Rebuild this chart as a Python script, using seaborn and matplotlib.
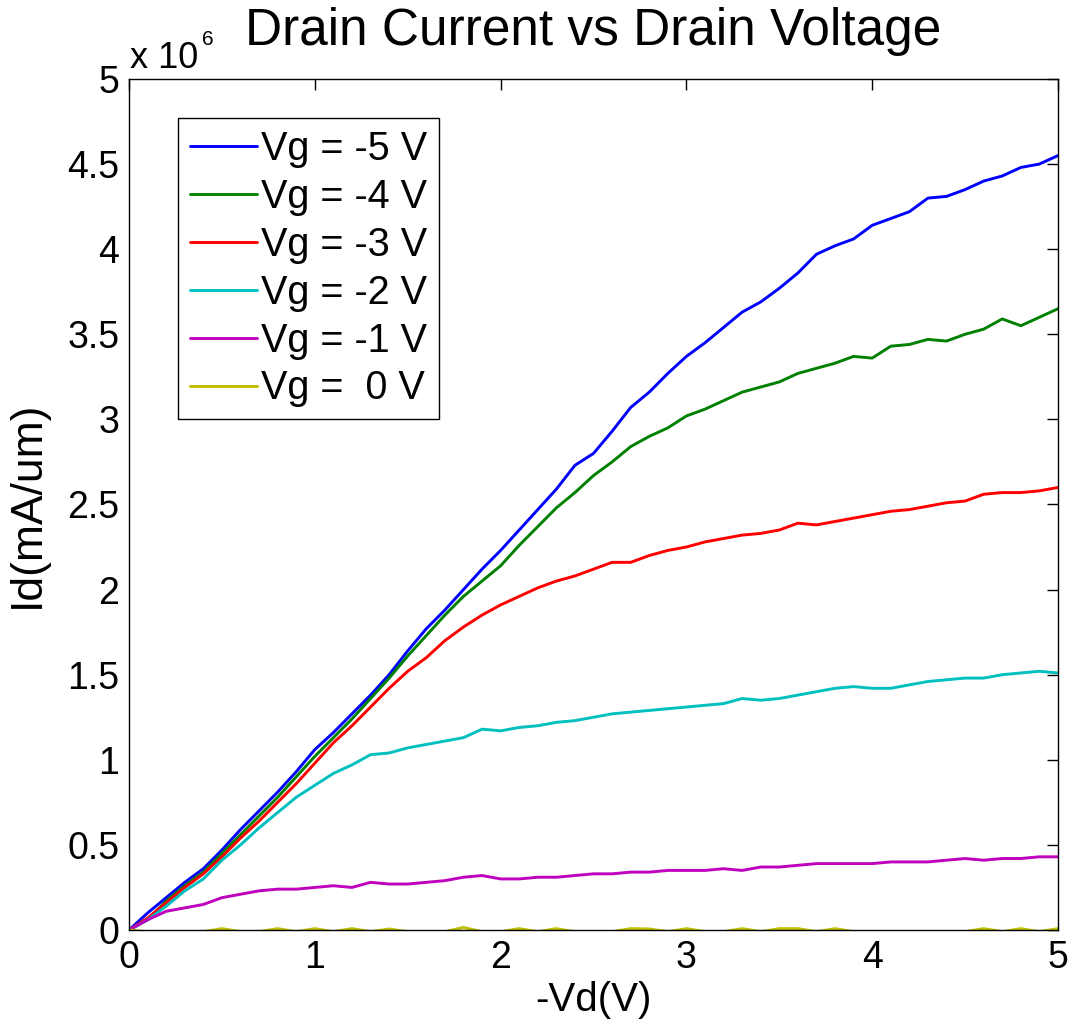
import numpy as np
import pandas as pd
import matplotlib
matplotlib.use("Agg")
import matplotlib.pyplot as plt
import seaborn as sns

# Drain voltage sweep (-Vd, volts)
vd = np.linspace(0.0, 5.0, 51)

# Drain current, in units of 1e6 mA/um, one array per gate voltage
id_vg_m5 = [0.00, 0.10, 0.19, 0.28, 0.36, 0.47, 0.59, 0.70, 0.81, 0.93,
            1.06, 1.16, 1.27, 1.38, 1.50, 1.64, 1.77, 1.88, 2.00, 2.12,
            2.23, 2.35, 2.47, 2.59, 2.73, 2.80, 2.93, 3.07, 3.16, 3.27,
            3.37, 3.45, 3.54, 3.63, 3.69, 3.77, 3.86, 3.97, 4.02, 4.06,
            4.14, 4.18, 4.22, 4.30, 4.31, 4.35, 4.40, 4.43, 4.48, 4.50,
            4.55]
id_vg_m4 = [0.00, 0.06, 0.17, 0.26, 0.34, 0.45, 0.56, 0.67, 0.78, 0.90,
            1.02, 1.13, 1.24, 1.36, 1.48, 1.61, 1.73, 1.85, 1.96, 2.05,
            2.14, 2.26, 2.37, 2.48, 2.57, 2.67, 2.75, 2.84, 2.90, 2.95,
            3.02, 3.06, 3.11, 3.16, 3.19, 3.22, 3.27, 3.30, 3.33, 3.37,
            3.36, 3.43, 3.44, 3.47, 3.46, 3.50, 3.53, 3.59, 3.55, 3.60,
            3.65]
id_vg_m3 = [0.00, 0.07, 0.16, 0.25, 0.33, 0.43, 0.54, 0.64, 0.75, 0.86,
            0.98, 1.10, 1.20, 1.31, 1.42, 1.52, 1.60, 1.70, 1.78, 1.85,
            1.91, 1.96, 2.01, 2.05, 2.08, 2.12, 2.16, 2.16, 2.20, 2.23,
            2.25, 2.28, 2.30, 2.32, 2.33, 2.35, 2.39, 2.38, 2.40, 2.42,
            2.44, 2.46, 2.47, 2.49, 2.51, 2.52, 2.56, 2.57, 2.57, 2.58,
            2.60]
id_vg_m2 = [0.00, 0.06, 0.14, 0.23, 0.30, 0.41, 0.50, 0.60, 0.69, 0.78,
            0.85, 0.92, 0.97, 1.03, 1.04, 1.07, 1.09, 1.11, 1.13, 1.18,
            1.17, 1.19, 1.20, 1.22, 1.23, 1.25, 1.27, 1.28, 1.29, 1.30,
            1.31, 1.32, 1.33, 1.36, 1.35, 1.36, 1.38, 1.40, 1.42, 1.43,
            1.42, 1.42, 1.44, 1.46, 1.47, 1.48, 1.48, 1.50, 1.51, 1.52,
            1.51]
id_vg_m1 = [0.00, 0.06, 0.11, 0.13, 0.15, 0.19, 0.21, 0.23, 0.24, 0.24,
            0.25, 0.26, 0.25, 0.28, 0.27, 0.27, 0.28, 0.29, 0.31, 0.32,
            0.30, 0.30, 0.31, 0.31, 0.32, 0.33, 0.33, 0.34, 0.34, 0.35,
            0.35, 0.35, 0.36, 0.35, 0.37, 0.37, 0.38, 0.39, 0.39, 0.39,
            0.39, 0.40, 0.40, 0.40, 0.41, 0.42, 0.41, 0.42, 0.42, 0.43,
            0.43]
id_vg_0 = [0.000, -0.010, -0.010, -0.010, -0.010, 0.008, -0.010, -0.010, 0.008, -0.010,
           0.008, -0.010, 0.008, -0.010, 0.006, -0.010, -0.010, -0.010, 0.015, -0.010,
           -0.010, 0.008, -0.010, 0.008, -0.010, -0.010, -0.010, 0.008, 0.006, -0.010,
           0.008, -0.010, -0.010, 0.008, -0.010, 0.008, 0.008, -0.010, 0.008, -0.010,
           -0.010, -0.010, -0.010, -0.010, -0.010, -0.010, 0.008, -0.010, 0.008, -0.010,
           0.008]

gate_labels = ["Vg = -5 V", "Vg = -4 V", "Vg = -3 V",
               "Vg = -2 V", "Vg = -1 V", "Vg =  0 V"]
gate_colors = ["#0000ff", "#008000", "#ff0000", "#00bfbf", "#bf00bf", "#bfbf00"]
series = [id_vg_m5, id_vg_m4, id_vg_m3, id_vg_m2, id_vg_m1, id_vg_0]

frames = [pd.DataFrame({"vd": vd, "id": vals, "gate": lab})
          for lab, vals in zip(gate_labels, series)]
df = pd.concat(frames, ignore_index=True)

sns.set_theme(style="white")
plt.rcParams["font.family"] = ["Liberation Sans", "DejaVu Sans"]
plt.rcParams["text.color"] = "black"
plt.rcParams["axes.labelcolor"] = "black"

fig = plt.figure(figsize=(10.69, 10.24), dpi=100)
ax = fig.add_axes([0.1207, 0.0918, 0.9897 - 0.1207, 0.9229 - 0.0918])

sns.lineplot(data=df, x="vd", y="id", hue="gate", hue_order=gate_labels,
             palette=dict(zip(gate_labels, gate_colors)), linewidth=2.1,
             estimator=None, sort=False, ax=ax)

ax.set_xlim(0, 5)
ax.set_ylim(0, 5)
ax.set_xticks(np.arange(0, 5.01, 1))
ax.set_yticks(np.arange(0, 5.01, 0.5))
ax.set_xticklabels(["0", "1", "2", "3", "4", "5"])
ax.set_yticklabels(["0", "0.5", "1", "1.5", "2", "2.5", "3", "3.5", "4", "4.5", "5"])

for sp in ax.spines.values():
    sp.set_visible(True)
    sp.set_color("black")
    sp.set_linewidth(1.0)

ax.tick_params(direction="in", length=8, width=1, top=True, right=True,
               labelsize=27, pad=7, colors="black")

ax.set_xlabel("-Vd(V)", fontsize=29, labelpad=4)
ax.set_ylabel("Id(mA/um)", fontsize=32, labelpad=14)
ax.set_title("Drain Current vs Drain Voltage", fontsize=37, pad=24.5)

# Exponent label for the y axis
ax.text(0.001, 1.0129, "x 10", transform=ax.transAxes, fontsize=26,
        ha="left", va="baseline")
ax.text(0.0786, 1.040, "6", transform=ax.transAxes, fontsize=15,
        ha="left", va="baseline")

handles, labels = ax.get_legend_handles_labels()
ax.get_legend().remove()
leg = ax.legend(handles, labels, loc="upper left",
                bbox_to_anchor=(0.053, 0.954), fontsize=28.5,
                frameon=True, fancybox=False, framealpha=1,
                edgecolor="black", borderpad=0.3, labelspacing=0.25,
                handlelength=1.7, handletextpad=0.1, borderaxespad=0)
leg.get_frame().set_linewidth(1.0)
for h in leg.get_lines():
    h.set_linewidth(2.1)

fig.savefig("out.png", dpi=100, facecolor="white")
